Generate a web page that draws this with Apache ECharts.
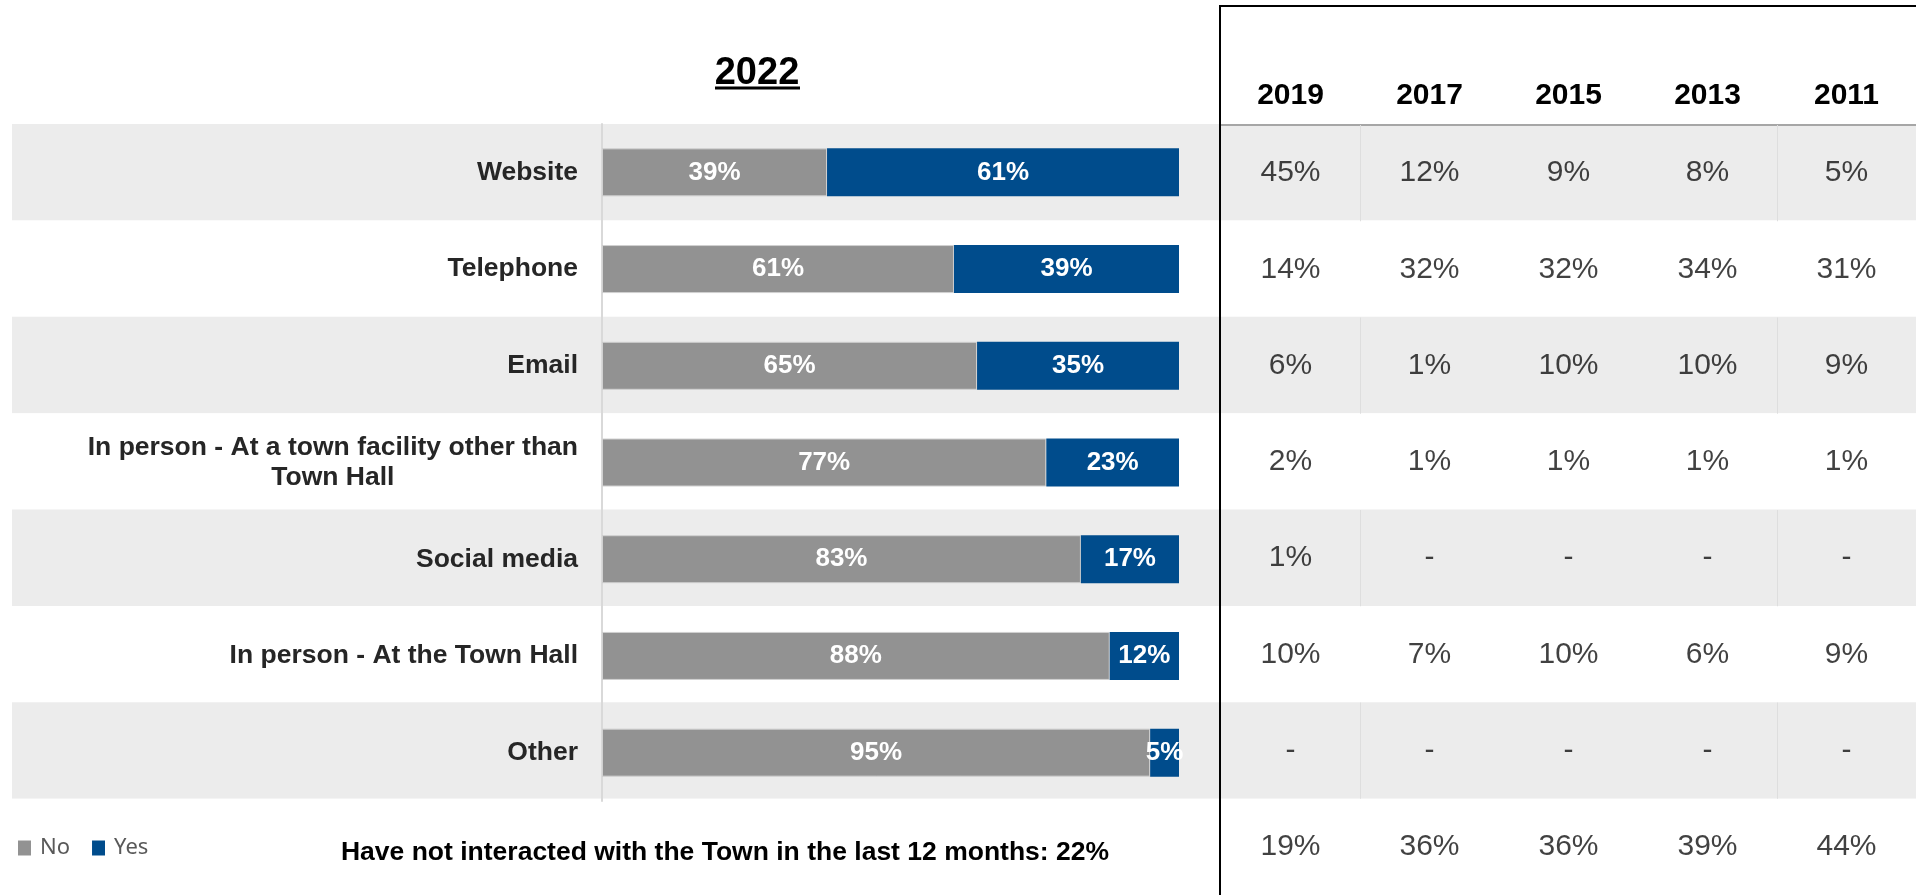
<!DOCTYPE html>
<html>
<head>
<meta charset="utf-8">
<script src="https://cdn.jsdelivr.net/npm/echarts@6/dist/echarts.min.js"></script>
<style>
  html, body { margin: 0; padding: 0; background: #fff; }
  #chart { width: 1916px; height: 895px; }
</style>
</head>
<body>
<div id="chart"></div>
<script>
  // 2022 results
  var categories = ['Website', 'Telephone', 'Email', 'In person - At a town facility other than Town Hall',
    'Social media', 'In person - At the Town Hall', 'Other'];
  var noValues = [39, 61, 65, 77, 83, 88, 95];
  var yesValues = [61, 39, 35, 23, 17, 12, 5];
  var notInteracted2022 = 22;

  // earlier years (null = "-")
  var years = ['2019', '2017', '2015', '2013', '2011'];
  var v2019 = [45, 14, 6, 2, 1, 10, null];
  var v2017 = [12, 32, 1, 1, null, 7, null];
  var v2015 = [9, 32, 10, 1, null, 10, null];
  var v2013 = [8, 34, 10, 1, null, 6, null];
  var v2011 = [5, 31, 9, 1, null, 9, null];
  var notInteracted = [19, 36, 36, 39, 44];

  var FONT = 'Liberation Sans, Arial, sans-serif';
  var GRAY = '#929292', BLUE = '#004c8c';

  var tableRows = categories.concat(['not interacted']);
  var columns = [v2019, v2017, v2015, v2013, v2011];
  var tableData = [];
  columns.forEach(function (col, ci) {
    col.concat([notInteracted[ci]]).forEach(function (v, ri) {
      tableData.push([ci, ri, v]);
    });
  });

  // thin cell borders in the shaded rows (after 2019 and after 2013)
  var cellBorders = [];
  [0, 3].forEach(function (ci) {
    for (var ri = 0; ri < categories.length; ri += 2) cellBorders.push([ci, ri]);
  });

  // wrap long label into centered lines
  function wrapLabel(text) {
    var words = text.split(' '), lines = [], cur = '';
    words.forEach(function (w) {
      if ((cur + ' ' + w).trim().length > 41) { lines.push(cur); cur = w; }
      else cur = (cur + ' ' + w).trim();
    });
    lines.push(cur);
    return lines.map(function (l) { return '{c|' + l + '}'; }).join('\n');
  }

  var chart = echarts.init(document.getElementById('chart'));

  var option = {
    animation: false,
    title: {
      text: '2022',
      left: 757,
      top: 55,
      padding: 0,
      textAlign: 'center',
      textStyle: { fontFamily: FONT, fontSize: 38, fontWeight: 'bold', color: '#000' }
    },
    legend: {
      data: ['No', 'Yes'],
      left: 18,
      top: 837,
      padding: 0,
      icon: 'rect',
      itemWidth: 13,
      itemHeight: 15,
      itemGap: 22,
      itemStyle: { borderWidth: 0 },
      textStyle: { fontFamily: '"Noto Sans", sans-serif', fontSize: 22, color: '#595959', padding: [0, 0, 0, 4] }
    },
    grid: [
      { left: 12, right: 0, top: 124, height: 774 },          // row bands
      { left: 602, width: 577, top: 124, height: 677 },        // 2022 bars
      { left: 1221, width: 710, top: 125, height: 776 }        // history table
    ],
    xAxis: [
      { gridIndex: 0, type: 'value', show: false },
      { gridIndex: 1, type: 'value', min: 0, max: 100, show: false },
      {
        gridIndex: 2, type: 'category', data: years, position: 'top',
        axisLine: { lineStyle: { color: '#a6a6a6', width: 2 } },
        axisTick: { show: false },
        axisLabel: { margin: 14, fontFamily: FONT, fontSize: 30, fontWeight: 'bold', color: '#000' },
        splitLine: { show: false }
      }
    ],
    yAxis: [
      {
        gridIndex: 0, type: 'category', data: tableRows, inverse: true,
        axisLine: { show: false }, axisTick: { show: false }, axisLabel: { show: false },
        splitArea: { show: true, interval: 0, areaStyle: { color: ['#ececec', '#ffffff'] } }
      },
      {
        gridIndex: 1, type: 'category', data: categories, inverse: true,
        axisLine: { lineStyle: { color: '#d9d9d9', width: 2 } },
        axisTick: { show: false },
        axisLabel: {
          interval: 0, margin: 24,
          formatter: wrapLabel,
          rich: { c: { align: 'center', fontFamily: FONT, fontSize: 26.5, fontWeight: 'bold', color: '#262626', lineHeight: 30 } }
        }
      },
      { gridIndex: 2, type: 'category', data: tableRows, inverse: true, show: false }
    ],
    series: [
      {
        name: 'No', type: 'bar', stack: 'y2022', xAxisIndex: 1, yAxisIndex: 1,
        data: noValues, barWidth: 48,
        itemStyle: { color: GRAY, borderColor: '#d0d0d0', borderWidth: 1 },
        label: { show: true, position: 'inside', formatter: '{c}%', color: '#fff', fontFamily: FONT, fontSize: 26, fontWeight: 'bold' }
      },
      {
        name: 'Yes', type: 'bar', stack: 'y2022', xAxisIndex: 1, yAxisIndex: 1,
        data: yesValues, barWidth: 48,
        itemStyle: { color: BLUE },
        label: { show: true, position: 'inside', formatter: '{c}%', color: '#fff', fontFamily: FONT, fontSize: 26, fontWeight: 'bold' }
      },
      {
        name: 'borders', type: 'custom', xAxisIndex: 2, yAxisIndex: 2, silent: true,
        data: cellBorders,
        renderItem: function (params, api) {
          var c = api.coord([api.value(0), api.value(1)]);
          var s = api.size([1, 1]);
          var x = Math.round(c[0] + s[0] / 2) + 0.5;
          return {
            type: 'line',
            shape: { x1: x, y1: c[1] - s[1] / 2, x2: x, y2: c[1] + s[1] / 2 },
            style: { stroke: '#dedede', lineWidth: 1 }
          };
        }
      },
      {
        name: 'history', type: 'scatter', xAxisIndex: 2, yAxisIndex: 2,
        data: tableData, encode: { x: 0, y: 1 },
        symbolSize: 1, itemStyle: { color: 'transparent' }, silent: true,
        label: {
          show: true, position: 'inside',
          formatter: function (p) { return p.value[2] == null ? '-' : p.value[2] + '%'; },
          fontFamily: FONT, fontSize: 30, color: '#111'
        }
      }
    ],
    graphic: [
      { type: 'line', z: 100, shape: { x1: 715, y1: 88, x2: 800, y2: 88 }, style: { stroke: '#000', lineWidth: 3 } },
      { type: 'polyline', z: 100, shape: { points: [[1916, 6], [1220, 6], [1220, 895]] }, style: { stroke: '#000', lineWidth: 2, fill: null } },
      {
        type: 'text', z: 100, x: 725, y: 853,
        style: {
          text: 'Have not interacted with the Town in the last 12 months: ' + notInteracted2022 + '%',
          align: 'center', verticalAlign: 'middle',
          fontFamily: FONT, fontSize: 26.5, fontWeight: 'bold', fill: '#000'
        }
      }
    ]
  };

  chart.setOption(option);
</script>
</body>
</html>
